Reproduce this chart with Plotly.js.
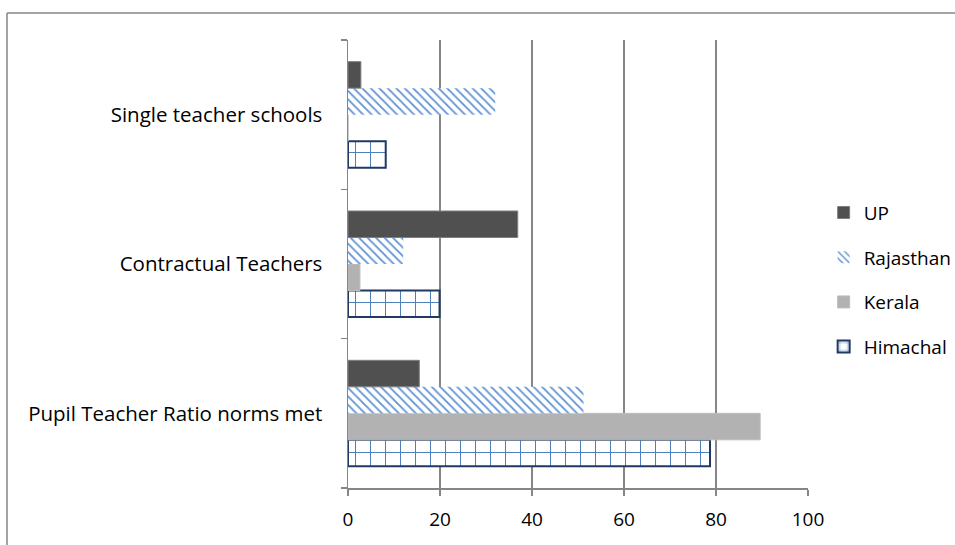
<!DOCTYPE html>
<html><head><meta charset="utf-8">
<script src="https://cdn.plot.ly/plotly-3.0.1.min.js"></script>
<style>html,body{margin:0;padding:0;background:#fff}#chart{width:955px;height:545px}</style>
</head><body><div id="chart"></div>
<script>
const categories = ['Pupil Teacher Ratio norms met', 'Contractual Teachers', 'Single teacher schools'];
const himachal = [78.7, 19.9, 8.2];
const kerala = [89.6, 2.6, 0];
const rajasthan = [51.2, 12, 32];
const up = [15.5, 36.9, 2.8];
const xTicks = [0, 20, 40, 60, 80, 100];

const FONT = '"Open Sans", Lato, sans-serif';
const traces = [
  {name: 'Himachal', legendgroup: 'h', legendrank: 4, y: categories, x: himachal, type: 'bar', orientation: 'h',
   marker: {color: '#ffffff', line: {color: '#1F3864', width: 2},
            pattern: {shape: '+', fgcolor: '#4F81BD', bgcolor: '#ffffff', size: 15, solidity: 0.13}}},
  {name: 'Kerala', legendgroup: 'k', legendrank: 3, y: categories, x: kerala, type: 'bar', orientation: 'h',
   marker: {color: '#B2B2B2', line: {color: '#BDBDBD', width: 1}}},
  {name: 'Rajasthan', legendgroup: 'r', legendrank: 2, y: categories, x: rajasthan, type: 'bar', orientation: 'h',
   marker: {color: '#ffffff', line: {width: 0},
            pattern: {shape: '\\', fgcolor: '#5F93D3', bgcolor: '#ffffff', size: 6, solidity: 0.3}}},
  {name: 'UP', legendgroup: 'u', legendrank: 1, y: categories, x: up, type: 'bar', orientation: 'h',
   marker: {color: '#505050', line: {color: '#7F7F7F', width: 1}}}
];

const layout = {
  width: 955, height: 545,
  margin: {l: 348, r: 147, t: 40, b: 57, autoexpand: false},
  paper_bgcolor: '#ffffff', plot_bgcolor: '#ffffff',
  font: {family: FONT, size: 20, color: '#000000'},
  barmode: 'group', bargap: 0.29, bargroupgap: 0,
  showlegend: true,
  legend: {x: 1.034, y: 0.657, xanchor: 'left', yanchor: 'top', traceorder: 'grouped',
           tracegroupgap: 17, font: {family: FONT, size: 19, color: '#000'}, bgcolor: 'rgba(0,0,0,0)'},
  xaxis: {range: [0, 100], tickvals: xTicks, ticktext: xTicks.map(String),
          tickfont: {size: 19},
          showgrid: true, gridcolor: '#868686', gridwidth: 1.5,
          showline: true, linecolor: '#868686', linewidth: 1.5,
          ticks: 'outside', ticklen: 6, tickcolor: '#868686', tickwidth: 1.5,
          ticklabelstandoff: 8, zeroline: false, fixedrange: true},
  yaxis: {type: 'category', showgrid: false, showline: true, linecolor: '#868686', linewidth: 1.5,
          tickfont: {size: 20.5},
          ticks: 'outside', tickson: 'boundaries', ticklen: 6, tickcolor: '#868686', tickwidth: 1.5,
          ticklabelstandoff: 20, zeroline: false, fixedrange: true},
  shapes: [
    {type: 'line', xref: 'paper', yref: 'paper', x0: (7-348)/460, x1: 2, y0: 1+(40-13)/448, y1: 1+(40-13)/448,
     line: {color: '#868686', width: 1.5}},
    {type: 'line', xref: 'paper', yref: 'paper', x0: (7-348)/460, x1: (7-348)/460, y0: 1+(40-13)/448, y1: -1,
     line: {color: '#868686', width: 1.5}}
  ]
};
Plotly.newPlot('chart', traces, layout, {staticPlot: true, displayModeBar: false});
</script></body></html>
